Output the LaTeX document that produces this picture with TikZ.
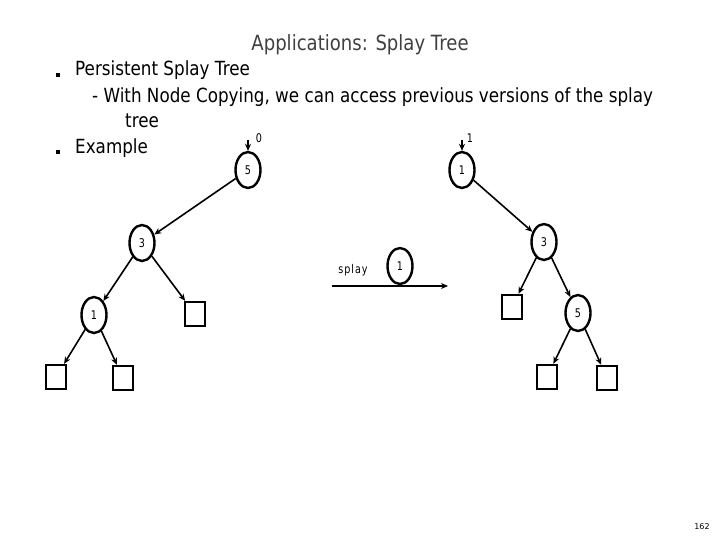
\documentclass[tikz,border=0pt]{standalone}
\usepackage{fontspec}
\setmainfont{DejaVu Sans}
\usetikzlibrary{arrows.meta,shapes.geometric}
\begin{document}
\begin{tikzpicture}[x=1pt,y=-1pt,
  nd/.style={ellipse,draw,line width=2.4pt,minimum width=25pt,minimum height=36pt,inner sep=0pt,font=\fontsize{12}{12}\selectfont\addfontfeatures{FakeStretch=0.8}},
  lf/.style={rectangle,draw,line width=2.4pt,minimum width=20pt,minimum height=24pt,inner sep=0pt},
  ed/.style={-{Stealth[length=7pt,width=6pt]},line width=1.6pt},
  txt/.style={font=\fontsize{19.5}{19.5}\selectfont\addfontfeatures{FakeStretch=0.86},anchor=west,inner sep=0pt},
  bul/.style={fill,minimum size=4pt,inner sep=0pt}]
\useasboundingbox (0,0) rectangle (720,540);
\node[font=\fontsize{21}{21}\selectfont\addfontfeatures{FakeStretch=0.86},text=black!75] (title) at (360,45) {Applications: Splay Tree};
\node[bul] (b1) at (58,75) {};
\node[txt] (t1) at (75,70) {Persistent Splay Tree};
\node[txt] (t2) at (92,97) {- With Node Copying, we can access previous versions of the splay};
\node[txt] (t3) at (125,121) {tree};
\node[bul] (b2) at (58,152) {};
\node[txt] (t4) at (75,148) {Example};
% left tree
\node[nd] (a5) at (248,170) {5};
\node[nd] (a3) at (142,243) {3};
\node[nd] (a1) at (94,315) {1};
\node[lf] (asq) at (195,314) {};
\node[lf] (al1) at (56,377) {};
\node[lf] (al2) at (123,378) {};
\coordinate (a0) at (248,140);
\node[font=\fontsize{12}{12}\selectfont\addfontfeatures{FakeStretch=0.8}] (a0l) at (259,138) {0};
\draw[ed] (a0) -- (a5);
\draw[ed] (a5) -- (a3);
\draw[ed] (a3) -- (a1);
\draw[ed] (a3) -- (asq);
\draw[ed] (a1) -- (al1);
\draw[ed] (a1) -- (al2);
% right tree
\node[nd] (b1n) at (462,170) {1};
\node[nd] (b3) at (544,242) {3};
\node[lf] (bsq) at (512,307) {};
\node[nd] (b5) at (578,313) {5};
\node[lf] (bl1) at (547,377) {};
\node[lf] (bl2) at (607,378) {};
\coordinate (b0) at (462,140);
\node[font=\fontsize{12}{12}\selectfont\addfontfeatures{FakeStretch=0.8}] (b0l) at (470,138) {1};
\draw[ed] (b0) -- (b1n);
\draw[ed] (b1n) -- (b3);
\draw[ed] (b3) -- (bsq);
\draw[ed] (b3) -- (b5);
\draw[ed] (b5) -- (bl1);
\draw[ed] (b5) -- (bl2);
% splay
\coordinate (s0) at (332,286);
\coordinate (s1) at (448,286);
\draw[ed] (s0) -- (s1);
\node[font=\fontsize{12}{12}\selectfont\addfontfeatures{FakeStretch=0.8,LetterSpace=8}] (sl) at (353,270) {splay};
\node[nd] (s1n) at (400,266) {1};
\node[font=\fontsize{8}{8}\selectfont] (pg) at (702,527) {162};
\end{tikzpicture}
\end{document}
